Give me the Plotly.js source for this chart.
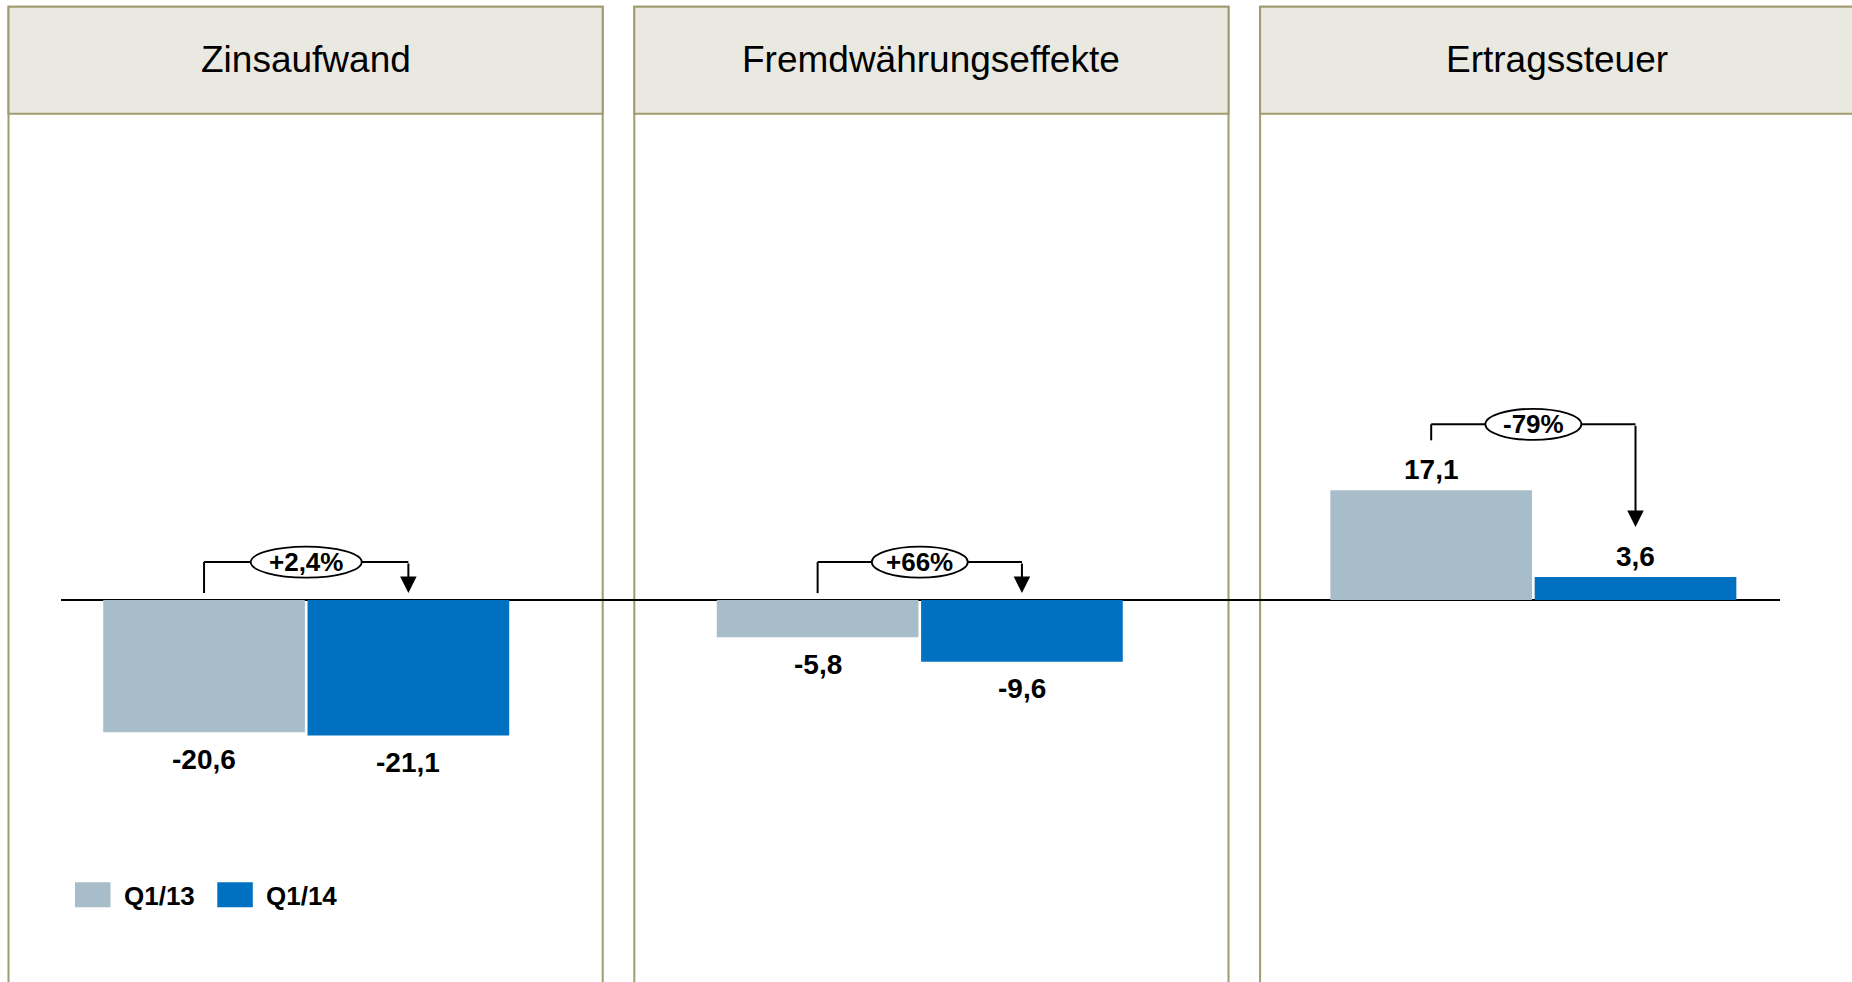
<!DOCTYPE html>
<html>
<head>
<meta charset="utf-8">
<script src="https://cdn.plot.ly/plotly-3.0.1.min.js"></script>
<style>
  html, body { margin: 0; padding: 0; background: #fff; }
  #plot { width: 1852px; height: 982px; }
</style>
</head>
<body>
<div id="plot"></div>
<script>
// Panels / categories
var categories = ["Zinsaufwand", "Fremdwährungseffekte", "Ertragssteuer"];
var seriesNames = ["Q1/13", "Q1/14"];

// Values in the picture (Mio. EUR)
var q113 = [-20.6, -5.8, 17.1];
var q114 = [-21.1, -9.6, 3.6];

// Change labels in the ovals
var changeLabels = ["+2,4%", "+66%", "-79%"];

var W = 1852, H = 982;
var colLight = "#A7BECA";
var colBlue = "#0070C0";
var olive = "#A09C70";
var headFill = "#EAE9E1";
var font = "'Liberation Sans', Arial, sans-serif";

var xs = categories.map(function (c, i) { return i; });

var yRange = [-59.5, 93.5];
var ppu = H / (yRange[1] - yRange[0]); // pixels per unit
var bargap = 0.334;
var off = (1 - bargap) / 4; // centre of each bar in a group

function px(x) { return x / W; }
function py(y) { return 1 - y / H; }
function fmt(v) { return v.toFixed(1).replace(".", ","); }

var trace1 = {
  x: xs,
  y: q113,
  name: seriesNames[0],
  type: "bar",
  marker: { color: colLight },
  hoverinfo: "none"
};

var trace2 = {
  x: xs,
  y: q114,
  name: seriesNames[1],
  type: "bar",
  marker: { color: colBlue },
  hoverinfo: "none"
};

var shapes = [];
var annotations = [];

// panel frames
var panelLeft = 8.5, panelW = 594.2, panelStep = 625.8;
categories.forEach(function (c, i) {
  var x0 = panelLeft + i * panelStep, x1 = x0 + panelW;
  shapes.push({
    type: "rect", xref: "paper", yref: "paper", layer: "below",
    x0: px(x0), x1: px(x1), y0: py(6.7), y1: py(1010),
    line: { color: olive, width: 2 }, fillcolor: "rgba(0,0,0,0)"
  });
  shapes.push({
    type: "rect", xref: "paper", yref: "paper", layer: "below",
    x0: px(x0), x1: px(x1), y0: py(6.7), y1: py(113.7),
    line: { color: olive, width: 2 }, fillcolor: headFill
  });
  annotations.push({
    xref: "paper", yref: "paper", x: px((x0 + x1) / 2), y: py(60),
    xanchor: "center", yanchor: "middle", showarrow: false,
    text: c, font: { family: font, size: 37, color: "#000" }
  });
});

// value labels
[q113, q114].forEach(function (vals, s) {
  vals.forEach(function (v, i) {
    annotations.push({
      x: i + (s === 0 ? -off : off), y: v,
      xref: "x", yref: "y", showarrow: false,
      yshift: v >= 0 ? 21 : -27,
      text: "<b>" + fmt(v) + "</b>",
      font: { family: font, size: 28, color: "#000" }
    });
  });
});

// change brackets with arrow and oval label
categories.forEach(function (c, i) {
  var a = q113[i], b = q114[i];
  var leg = function (v) { return v > 0 ? v + 50 / ppu : 7 / ppu; };
  var m = Math.max(0, a, b);
  var top = m + (m > 0 ? 66 : 38) / ppu;
  var lx = i - off, rx = i + off;
  shapes.push({
    type: "line", xref: "x", yref: "y", x0: lx, x1: lx, y0: leg(a), y1: top,
    line: { color: "#000", width: 2 }
  });
  shapes.push({
    type: "line", xref: "x", yref: "y", x0: lx, x1: rx, y0: top, y1: top,
    line: { color: "#000", width: 2 }
  });
  var w = 15 * changeLabels[i].length + 36;
  shapes.push({
    type: "circle", xref: "x", yref: "y",
    xsizemode: "pixel", ysizemode: "pixel", xanchor: i, yanchor: top,
    x0: -w / 2, x1: w / 2, y0: -15.5, y1: 15.5,
    fillcolor: "#fff", line: { color: "#000", width: 1.8 }
  });
  annotations.push({
    x: rx, y: leg(b), ax: rx, ay: top, xref: "x", yref: "y",
    axref: "x", ayref: "y", text: "", showarrow: true,
    arrowhead: 2, arrowsize: 1.65, arrowwidth: 2, arrowcolor: "#000", standoff: 0
  });
  annotations.push({
    x: i, y: top, xref: "x", yref: "y", showarrow: false,
    text: "<b>" + changeLabels[i] + "</b>",
    font: { family: font, size: 26, color: "#000" }
  });
});

// legend
var legendItems = [
  { name: seriesNames[0], color: colLight, x: 75 },
  { name: seriesNames[1], color: colBlue, x: 217.3 }
];
legendItems.forEach(function (it) {
  shapes.push({
    type: "rect", xref: "paper", yref: "paper",
    x0: px(it.x), x1: px(it.x + 35.5), y0: py(882.3), y1: py(907.3),
    line: { width: 0 }, fillcolor: it.color
  });
  annotations.push({
    xref: "paper", yref: "paper", x: px(it.x + 47), y: py(895.5),
    xanchor: "left", yanchor: "middle", showarrow: false,
    text: "<b>" + it.name + "</b>",
    font: { family: font, size: 26, color: "#000" }
  });
});

var data = [trace1, trace2];

var layout = {
  width: W,
  height: H,
  margin: { l: 0, r: 0, t: 0, b: 0, pad: 0 },
  paper_bgcolor: "#fff",
  plot_bgcolor: "rgba(0,0,0,0)",
  barmode: "group",
  bargap: bargap,
  bargroupgap: 0.013,
  showlegend: false,
  xaxis: {
    domain: [61.4 / W, 1780 / W],
    range: [-0.399, 2.402],
    showgrid: false, zeroline: false, showticklabels: false, ticks: "", showline: false
  },
  yaxis: {
    range: yRange,
    showgrid: false, showticklabels: false, ticks: "", showline: false,
    zeroline: true, zerolinecolor: "#000", zerolinewidth: 2.5
  },
  shapes: shapes,
  annotations: annotations
};

Plotly.newPlot("plot", data, layout, { staticPlot: true });
</script>
</body>
</html>
